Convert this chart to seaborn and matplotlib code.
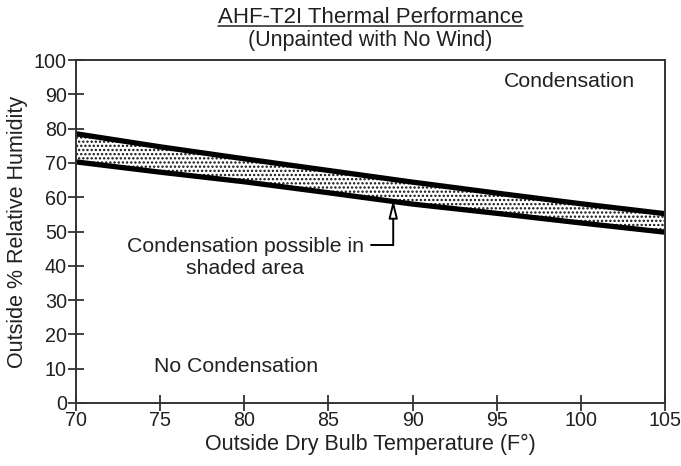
import matplotlib
matplotlib.use("Agg")
import matplotlib.pyplot as plt
import seaborn as sns
import pandas as pd
from matplotlib.lines import Line2D

temps = [70, 75, 80, 85, 90, 95, 100, 105]
upper_rh = [78.5, 74.7, 71.2, 67.8, 64.4, 61.2, 58.1, 55.2]
lower_rh = [70.3, 67.3, 64.5, 61.3, 58.0, 55.3, 52.5, 49.8]
x_ticks = [70, 75, 80, 85, 90, 95, 100, 105]
y_ticks = [0, 10, 20, 30, 40, 50, 60, 70, 80, 90, 100]

sns.set_theme(style="ticks")
plt.rcParams['font.family'] = ['Liberation Sans', 'DejaVu Sans']
plt.rcParams['hatch.linewidth'] = 1.1
txt = '#231f20'

df = pd.DataFrame({'temp': temps + temps,
                   'rh': upper_rh + lower_rh,
                   'curve': ['upper'] * len(temps) + ['lower'] * len(temps)})

fig = plt.figure(figsize=(6.81, 4.66), dpi=100)
ax = fig.add_axes([0.1116, 0.1352, 0.9765 - 0.1116, 0.8712 - 0.1352])

ax.fill_between(temps, lower_rh, upper_rh, facecolor='white', edgecolor='#111111',
                hatch='....', linewidth=0)
sns.lineplot(data=df, x='temp', y='rh', units='curve', estimator=None,
             color='black', linewidth=3.8, ax=ax, legend=False)

ax.set_xlim(70, 105)
ax.set_ylim(0, 100)
ax.set_xticks(x_ticks)
ax.set_yticks(y_ticks)
ax.tick_params(direction='inout', length=11, width=1.3, colors='#333333',
               labelsize=14.2, labelcolor=txt, pad=1)
ax.tick_params(axis='x', pad=0)
for s in ax.spines.values():
    s.set_linewidth(1.4)
    s.set_color('#333333')
ax.set_xlabel('Outside Dry Bulb Temperature (F°)', fontsize=15.5, color=txt, labelpad=3)
ax.set_ylabel('Outside % Relative Humidity', fontsize=15.5, color=txt, labelpad=4)

ax.text(99.35, 93.8, 'Condensation', fontsize=15.3, color=txt, ha='center', va='center')
ax.text(79.5, 10.6, 'No Condensation', fontsize=15.3, color=txt, ha='center', va='center')
ax.text(80.05, 42.4, 'Condensation possible in\nshaded area', fontsize=15.3, color=txt,
        ha='center', va='center', linespacing=1.15)
ax.plot([87.55, 88.85], [46, 46], color='black', linewidth=1.4)
ax.annotate('', xy=(88.85, 59.3), xytext=(88.85, 46),
            arrowprops=dict(arrowstyle='-|>,head_length=0.9,head_width=0.22',
                            fc='white', ec='black', lw=1.4, shrinkA=0, shrinkB=0))

t1 = fig.text(0.5437, 0.962, 'AHF-T2I Thermal Performance', fontsize=16, color=txt,
              ha='center', va='center')
fig.text(0.5437, 0.914, '(Unpainted with No Wind)', fontsize=15.5, color=txt,
         ha='center', va='center')
fig.canvas.draw()
bb = t1.get_window_extent().transformed(fig.transFigure.inverted())
fig.add_artist(Line2D([bb.x0, bb.x1], [bb.y0 + 0.004, bb.y0 + 0.004],
                      color=txt, linewidth=1.1, transform=fig.transFigure))

fig.savefig('out.png', dpi=100)
